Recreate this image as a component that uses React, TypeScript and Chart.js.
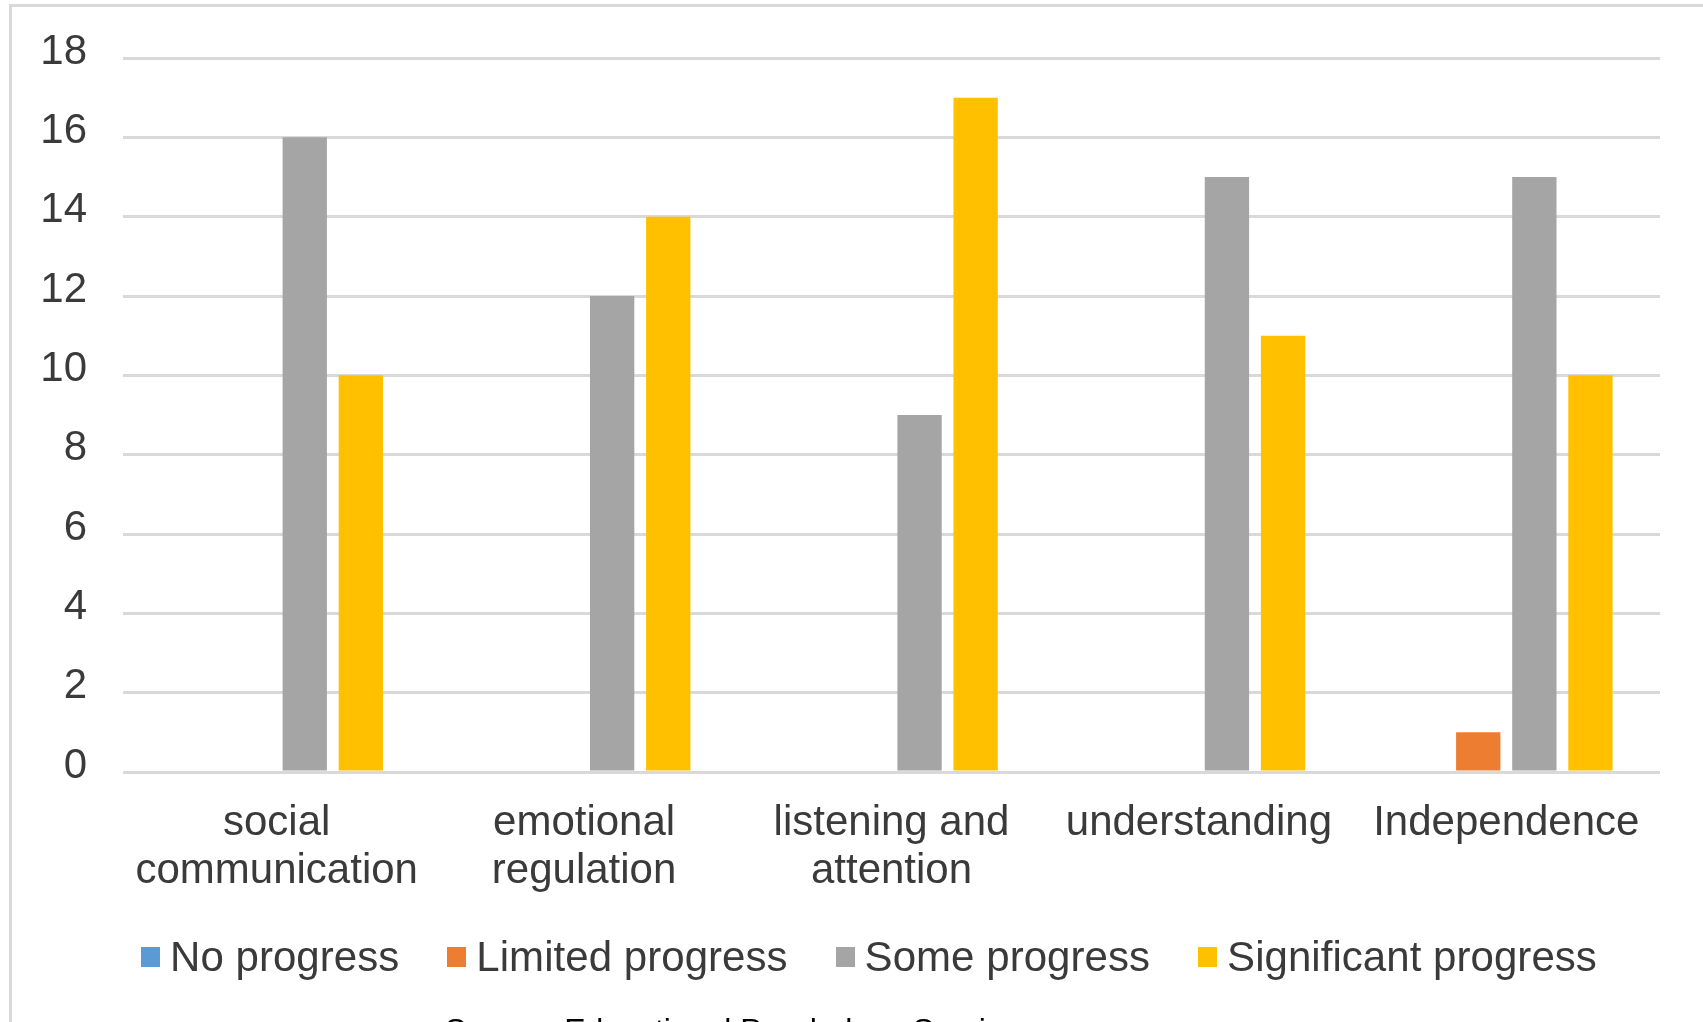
import React, { useEffect, useRef } from "react";
import { Chart, registerables } from "chart.js";

Chart.register(...registerables);

// Outcome areas (x axis)
const categories: (string | string[])[] = [
  ["social", "communication"],
  ["emotional", "regulation"],
  ["listening and", "attention"],
  "understanding",
  "Independence",
];

// Number of pupils per progress level
const noProgress = [0, 0, 0, 0, 0];
const limitedProgress = [0, 0, 0, 0, 1];
const someProgress = [16, 12, 9, 15, 15];
const significantProgress = [10, 14, 17, 11, 10];

const seriesNames = ["No progress", "Limited progress", "Some progress", "Significant progress"];
const seriesColors = ["#5B9BD5", "#ED7D31", "#A5A5A5", "#FFC000"];

// Value axis
const yMax = 18;
const yStep = 2;

const caption = "Source: Educational Psychology Service";

const FONT = "'Liberation Sans', Arial, sans-serif";
const TEXT = "#3a3a3a";
const GRID = "#d9d9d9";

export default function App() {
  const canvasRef = useRef<HTMLCanvasElement | null>(null);

  useEffect(() => {
    const canvas = canvasRef.current;
    if (!canvas) return;
    const series = [noProgress, limitedProgress, someProgress, significantProgress];
    const chart = new Chart(canvas, {
      type: "bar",
      data: {
        labels: categories as any,
        datasets: series.map((values, i) => ({
          label: seriesNames[i],
          data: values,
          backgroundColor: seriesColors[i],
          borderWidth: 0,
          categoryPercentage: 0.73,
          barPercentage: 0.79,
        })),
      },
      options: {
        animation: false,
        responsive: false,
        maintainAspectRatio: false,
        layout: { padding: { top: 58, right: 43, bottom: 0, left: 0 } },
        plugins: {
          legend: { display: false },
          tooltip: { enabled: false },
          title: { display: false },
        },
        scales: {
          x: {
            grid: { display: false },
            border: { display: false },
            ticks: {
              color: TEXT,
              font: { family: FONT, size: 42, lineHeight: 48 / 42 },
              padding: 19,
              maxRotation: 0,
              autoSkip: false,
            },
            afterFit: (scale: any) => {
              scale.height = 250;
            },
          },
          y: {
            min: 0,
            max: yMax,
            border: { display: false },
            grid: { color: GRID, lineWidth: 3, drawTicks: false },
            ticks: {
              stepSize: yStep,
              color: TEXT,
              // a blank second line lifts each number slightly above its grid line
              font: { family: FONT, size: 42, lineHeight: 12 / 42 },
              padding: 36,
              callback: (value: any) => [String(value), ""],
            },
            afterFit: (scale: any) => {
              scale.width = 123;
            },
          },
        },
      },
    });
    return () => chart.destroy();
  }, []);

  return (
    <div
      style={{
        position: "absolute",
        left: 0,
        top: 0,
        width: 1703,
        height: 1022,
        overflow: "hidden",
        background: "#fff",
        fontFamily: FONT,
      }}
    >
      <div
        style={{
          position: "absolute",
          left: 9,
          top: 4,
          width: 1800,
          height: 1200,
          border: `3px solid ${GRID}`,
          boxSizing: "border-box",
        }}
      />
      <canvas
        ref={canvasRef}
        width={1703}
        height={1022}
        style={{ position: "absolute", left: 0, top: 0, width: 1703, height: 1022 }}
      />
      <div
        style={{
          position: "absolute",
          left: 141,
          top: 936,
          display: "flex",
          alignItems: "center",
          gap: 48,
          whiteSpace: "nowrap",
        }}
      >
        {seriesNames.map((name, i) => (
          <div key={name} style={{ display: "flex", alignItems: "center", gap: 10 }}>
            <span style={{ width: 19, height: 20, background: seriesColors[i], display: "inline-block" }} />
            <span style={{ fontSize: 42, lineHeight: "42px", color: TEXT, letterSpacing: 0.05 }}>{name}</span>
          </div>
        ))}
      </div>
      <div
        style={{
          position: "absolute",
          left: 445,
          top: 1014,
          fontSize: 32,
          lineHeight: "32px",
          color: "#000",
          whiteSpace: "nowrap",
        }}
      >
        {caption}
      </div>
    </div>
  );
}
